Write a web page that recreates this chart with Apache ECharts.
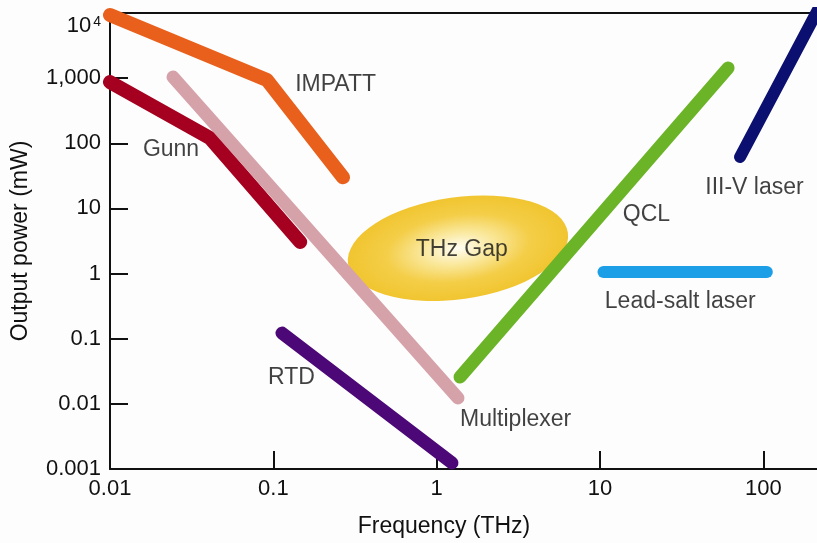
<!DOCTYPE html>
<html>
<head>
<meta charset="utf-8">
<script src="https://cdn.jsdelivr.net/npm/echarts@6/dist/echarts.min.js"></script>
<style>
html,body{margin:0;padding:0;background:#fdfdfd;}
#chart{width:817px;height:543px;}
</style>
</head>
<body>
<div id="chart"></div>
<script>
// ---- data (frequency THz, output power mW) ----
const xTicks = [0.01, 0.1, 1, 10, 100];
const yTicks = [0.001, 0.01, 0.1, 1, 10, 100, 1000, 10000];

const impatt    = [[0.01, 9300], [0.0914, 936], [0.267, 30]];
const gunn      = [[0.01, 870], [0.041, 120], [0.146, 3.05]];
const multiplexer = [[0.0243, 1040], [1.35, 0.0123]];
const rtd       = [[0.113, 0.122], [1.24, 0.00124]];
const qcl       = [[1.39, 0.0258], [60.8, 1430]];
const iiiv      = [[72, 61.6], [215, 11000]];
const leadSalt  = [[10.5, 1.06], [105, 1.06]];
const thzGap    = [[1.35, 2.45]];

const labelNames  = ['IMPATT', 'Gunn', 'RTD', 'Multiplexer', 'THz Gap', 'QCL', 'III-V laser', 'Lead-salt laser'];
const labelFreq   = [0.136, 0.0159, 0.0928, 1.39, 0.745, 13.8, 44.1, 10.7];
const labelPower  = [785, 78.9, 0.0249, 0.00565, 2.30, 7.92, 20.6, 0.366];

const FONT = '"Liberation Sans", Arial, Helvetica, sans-serif';
const TXT = '#111';

const chart = echarts.init(document.getElementById('chart'), null, {renderer: 'canvas'});

function lineSeries(name, data, color, width) {
  return {
    name: name, type: 'line', data: data, showSymbol: false, symbol: 'none',
    lineStyle: {color: color, width: width, cap: 'round', join: 'round'},
    silent: true, animation: false, clip: true
  };
}

const option = {
  backgroundColor: '#fdfdfd',
  animation: false,
  textStyle: {fontFamily: FONT},
  grid: {left: 110, right: 0, top: 13, bottom: 74, containLabel: false},
  xAxis: [{
    type: 'log', logBase: 10, min: 0.01, max: 213,
    name: 'Frequency (THz)', nameLocation: 'middle', nameGap: 46,
    nameTextStyle: {fontSize: 23, color: TXT, fontFamily: FONT, padding: [0, 39, 0, 0]},
    axisLine: {show: true, lineStyle: {color: '#111', width: 2}},
    axisTick: {show: true, inside: true, length: 18, customValues: xTicks, lineStyle: {color: '#111', width: 2}},
    axisLabel: {
      fontSize: 22, color: TXT, fontFamily: FONT, margin: 9,
      customValues: xTicks,
      formatter: function (v) {
        const k = Math.round(Math.log10(v));
        const idx = xTicks.findIndex(t => Math.round(Math.log10(t)) === k);
        return idx >= 0 ? String(xTicks[idx]) : '';
      }
    },
    splitLine: {show: false}, minorTick: {show: false}
  }, {
    type: 'log', logBase: 10, min: 0.01, max: 213, position: 'top',
    axisLine: {show: true, lineStyle: {color: '#111', width: 2}},
    axisTick: {show: false}, axisLabel: {show: false}, splitLine: {show: false}
  }],
  yAxis: {
    type: 'log', logBase: 10, min: 0.001, max: 10000,
    name: 'Output power (mW)', nameLocation: 'middle', nameGap: 78,
    nameTextStyle: {fontSize: 23, color: TXT, fontFamily: FONT},
    axisLine: {show: true, lineStyle: {color: '#111', width: 2}},
    axisTick: {show: true, inside: true, length: 18, lineStyle: {color: '#111', width: 2}},
    axisLabel: {
      fontSize: 22, color: TXT, fontFamily: FONT, margin: 9,
      formatter: function (v) {
        const k = Math.round(Math.log10(v));
        if (k === 4) return '{b|10}{s|4}';
        if (k === 3) return '1,000';
        const idx = yTicks.findIndex(t => Math.round(Math.log10(t)) === k);
        return idx >= 0 ? String(yTicks[idx]) : '';
      },
      rich: {
        b: {fontSize: 22, color: TXT, fontFamily: FONT, padding: [26, 0, 0, 0]},
        s: {fontSize: 14, color: TXT, fontFamily: FONT, padding: [18, 0, 0, 2]}
      }
    },
    splitLine: {show: false}, minorTick: {show: false}
  },
  series: [
    {
      name: 'THz Gap', type: 'custom', data: thzGap, silent: true, animation: false,
      encode: {x: 0, y: 1},
      renderItem: function (params, api) {
        const p = api.coord([api.value(0), api.value(1)]);
        const ry = 51, rx = 111;
        return {
          type: 'circle', x: p[0], y: p[1], rotation: 8 * Math.PI / 180,
          scaleX: rx / ry, scaleY: 1,
          shape: {cx: 0, cy: 0, r: ry},
          style: {
            fill: new echarts.graphic.RadialGradient(0.5, 0.5, 0.5, [
              {offset: 0, color: '#fffdf3'},
              {offset: 0.3, color: '#fae9a0'},
              {offset: 0.65, color: '#f4ce48'},
              {offset: 1, color: '#f1c530'}
            ])
          }
        };
      }
    },
    lineSeries('IMPATT', impatt, '#e8601c', 14),
    lineSeries('Gunn', gunn, '#a5001f', 14),
    lineSeries('Multiplexer', multiplexer, '#d6a2aa', 13),
    lineSeries('RTD', rtd, '#4c0877', 13),
    lineSeries('QCL', qcl, '#6bb327', 13),
    lineSeries('III-V laser', iiiv, '#0b0f70', 12),
    lineSeries('Lead-salt laser', leadSalt, '#1c9fe6', 12),
    {
      name: 'labels', type: 'scatter', symbolSize: 0, silent: true, animation: false, z: 10,
      data: labelNames.map((n, i) => ({name: n, value: [labelFreq[i], labelPower[i]]})),
      label: {
        show: true, position: 'right', distance: 0,
        formatter: '{b}', fontSize: 23, color: TXT, fontFamily: FONT
      }
    }
  ]
};

chart.setOption(option);
</script>
</body>
</html>
